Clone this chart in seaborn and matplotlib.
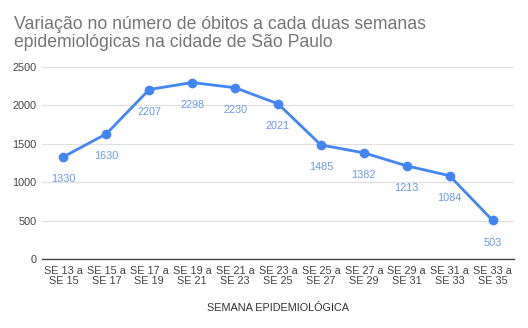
import matplotlib
matplotlib.use("Agg")
import matplotlib.pyplot as plt
import seaborn as sns
import pandas as pd

categories = ["SE 13 a\nSE 15", "SE 15 a\nSE 17", "SE 17 a\nSE 19", "SE 19 a\nSE 21",
              "SE 21 a\nSE 23", "SE 23 a\nSE 25", "SE 25 a\nSE 27", "SE 27 a\nSE 29",
              "SE 29 a\nSE 31", "SE 31 a\nSE 33", "SE 33 a\nSE 35"]
obitos = [1330, 1630, 2207, 2298, 2230, 2021, 1485, 1382, 1213, 1084, 503]
yticks = [0, 500, 1000, 1500, 2000, 2500]
title_lines = ["Variação no número de óbitos a cada duas semanas",
               "epidemiológicas na cidade de São Paulo"]

sns.set_theme(style="white")
plt.rcParams['font.family'] = ['Liberation Sans', 'DejaVu Sans']

df = pd.DataFrame({"semana": range(len(categories)), "obitos": obitos})

fig = plt.figure(figsize=(5.28, 3.28), dpi=100)
ax = fig.add_axes([42/528, 1-259/328, 472/528, 192/328])

color = "#4285f4"
sns.lineplot(data=df, x="semana", y="obitos", ax=ax, color=color, linewidth=2,
             marker="o", markersize=7, markeredgewidth=0, zorder=3)

for i, v in enumerate(obitos):
    ax.annotate(str(v), (i, v), xytext=(0, -16), textcoords="offset points",
                ha="center", va="center", fontsize=7.8, color="#6a9ae6")

ax.set_xlim(-0.5, len(categories) - 0.5)
ax.set_ylim(0, 2500)
ax.set_yticks(yticks)
ax.set_yticklabels([str(t) for t in yticks])
ax.set_xticks(range(len(categories)))
ax.set_xticklabels(categories, linespacing=1.05)
ax.tick_params(axis="both", length=0, labelsize=7.8, colors="#444444")
ax.tick_params(axis="x", pad=5)
ax.tick_params(axis="y", pad=4)
ax.grid(axis="y", color="#e0e0e0", linewidth=0.9)
ax.set_axisbelow(True)
for s in ["top", "right", "left"]:
    ax.spines[s].set_visible(False)
ax.spines["bottom"].set_color("#444444")
ax.spines["bottom"].set_linewidth(1.0)
ax.set_ylabel("")
ax.set_xlabel("SEMANA EPIDEMIOLÓGICA", fontsize=7.8, color="#333333", labelpad=12)

fig.text(14/528, 1-29/328, title_lines[0], ha="left", va="baseline",
         fontsize=12.7, color="#757575")
fig.text(14/528, 1-47/328, title_lines[1], ha="left", va="baseline",
         fontsize=12.7, color="#757575")

fig.savefig("out.png", dpi=100, facecolor="white")
